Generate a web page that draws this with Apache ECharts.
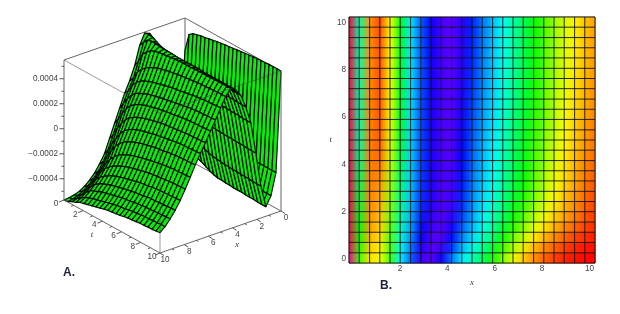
<!DOCTYPE html>
<html><head><meta charset="utf-8">
<style>html,body{margin:0;padding:0;background:#fff}#c{width:620px;height:314px}</style>
<script src="https://cdn.jsdelivr.net/npm/echarts@6/dist/echarts.min.js"></script>
</head><body><div id="c"></div>
<script>
// Sample positions of the 25 x 25 mesh (data units)
const xSamples = [-0.15,0.28,0.72,1.15,1.58,2.01,2.45,2.88,3.31,3.74,4.18,4.61,5.04,5.47,5.91,6.34,6.77,7.2,7.64,8.07,8.5,8.93,9.37,9.8,10.23];
const tSamples = [-0.17,0.26,0.70,1.13,1.56,2.0,2.43,2.86,3.30,3.73,4.16,4.60,5.03,5.46,5.90,6.33,6.76,7.20,7.63,8.06,8.50,8.93,9.36,9.80,10.23];
const levels = [
[320,100,55,65,105,185,220,256,260,240,205,180,160,135,110,85,60,44,30,20,12,6,3,1,0],
[330,110,50,60,102,178,213,250,262,250,218,190,170,149,123,97,72,53,38,27,18,11,6,3,1],
[340,112,45,55,100,170,208,245,260,258,235,205,184,162,138,113,88,67,50,38,28,19,12,8,5],
[342,118,38,52,97,165,204,240,256,260,243,214,193,172,151,126,102,81,62,49,38,28,20,13,8],
[343,125,35,48,94,160,200,235,252,260,250,221,200,180,160,137,115,94,73,59,46,36,27,18,12],
[344,130,33,45,90,155,198,231,250,259,253,226,204,184,166,145,124,103,82,66,52,41,31,21,14],
[345,135,31,41,87,152,196,229,249,258,255,230,207,188,171,150,130,110,89,72,57,45,34,24,16],
[345,140,30,38,84,149,195,228,248,258,256,233,210,191,174,154,135,115,94,76,61,48,37,26,18],
[345,143,30,35,80,146,193,226,247,258,257,235,212,193,177,157,138,119,98,80,64,51,39,28,20],
[345,148,30,31,75,142,192,225,246,257,258,237,214,195,179,160,141,122,101,83,67,53,41,30,22],
[345,152,30,27,71,138,191,224,246,257,259,239,216,197,181,162,143,125,104,86,69,55,43,32,24],
[345,156,30,24,68,134,190,223,246,257,260,240,218,199,183,164,145,127,106,88,71,57,45,34,26],
[345,160,30,22,66,131,190,223,246,257,260,242,220,200,184,166,147,129,108,90,73,59,47,36,27],
[345,160,31,22,65,129,189,222,245,257,260,243,221,202,186,168,149,131,110,92,75,60,48,37,28],
[345,160,31,21,64,128,188,222,245,257,260,244,222,203,187,169,150,133,112,94,77,62,49,38,29],
[345,160,32,21,63,128,188,221,245,257,261,245,224,205,188,170,152,134,114,96,78,63,51,40,31],
[345,160,32,20,63,127,187,221,244,256,261,246,225,206,190,171,153,135,115,97,79,64,52,41,32],
[345,160,33,20,62,127,187,220,244,256,261,247,227,208,191,172,155,137,117,98,81,66,53,42,33],
[345,160,33,20,62,127,187,220,244,256,261,248,228,209,192,173,156,138,118,99,82,67,54,43,34],
[345,160,34,19,61,126,186,219,244,256,261,248,229,210,193,174,157,139,119,100,83,67,54,44,35],
[345,160,34,19,61,126,186,219,243,256,262,249,230,211,193,175,158,140,120,101,83,68,55,44,35],
[345,160,34,19,61,126,186,219,243,256,262,249,231,211,194,175,158,140,120,102,84,69,56,45,36],
[345,160,35,18,60,125,185,218,243,256,262,250,231,212,194,176,159,141,121,102,84,69,56,45,36],
[345,160,35,18,60,125,185,218,243,256,262,250,232,212,195,176,159,141,121,103,85,70,57,46,37],
[345,160,35,18,60,125,185,218,243,256,262,250,232,213,195,177,160,142,122,103,85,70,57,46,38]
];
// Heights of the two columns next to x = 0 (same level unit)
const wallEdgeLevels = [202,235,241,243,245,246,248,249,251,252,253,254,255,256,257,258,259,260,260,261,261,262,262,262,262];
const wallShoulderLevels = [60,64,68,70,72,73,74,74,75,75,75,75,75,75,75,75,75,75,75,75,75,75,75,75,75];
const zTickLabels = ['0.0004','0.0002','0','\u22120.0002','\u22120.0004'];
const zTickValues = [0.0004,0.0002,0,-0.0002,-0.0004];
const zMinorValues = [0.0005,0.0003,0.0001,-0.0001,-0.0003,-0.0005];
const axisTickLabels = ['0','2','4','6','8','10'];
const axisTickValues = [0,2,4,6,8,10];
const axisMinorValues = [1,3,5,7,9];

const zLow = -0.00057, zPerLevel = 0.000004275, zBottom = -0.00057, zTop = 0.00055;
const nearCorner = [160,253], perX = [12.1,-4.2], perT = [-9.6,-5.3], zScale = 125000;
function project(x,t,z){
  return [nearCorner[0]+(10-x)*perX[0]+(10-t)*perT[0],
          nearCorner[1]+(10-x)*perX[1]+(10-t)*perT[1]-(z-zBottom)*zScale];
}
function height(i,j){
  let l = levels[j][i];
  if(i===0) l = wallEdgeLevels[j];
  if(i===1) l = wallShoulderLevels[j];
  return zLow + l*zPerLevel;
}
function hsv(h){
  const f=n=>{const k=(n+h/60)%6;return 255*(1-Math.max(0,Math.min(k,4-k,1)));};
  return [f(5),f(3),f(1)];
}
function mix(a,b){return 'rgb('+[0,1,2].map(k=>Math.round((a[k]+b[k])/2)).join(',')+')';}

const cellsIdx=[];
for(let i=0;i<24;i++)for(let j=0;j<24;j++)cellsIdx.push([i,j]);
const meshLines=[];
for(let i=0;i<25;i++)meshLines.push([0,i]);
for(let j=0;j<25;j++)meshLines.push([1,j]);

// ---------- Panel A box
const cornerOf=(x,t,top)=>project(x,t,top?zTop:zBottom);
const backEdges=[[[10,0,1],[0,0,1]],[[0,0,1],[0,10,1]],[[0,0,1],[0,0,0]],[[10,0,0],[0,0,0]],[[0,0,0],[0,10,0]]];
const nearEdges=[[[10,0,1],[10,10,1]],[[0,10,1],[10,10,1]],[[10,10,1],[10,10,0]]];
const frameEdges=[[[10,0,1],[10,0,0]],[[0,10,1],[0,10,0]],[[10,0,0],[10,10,0]],[[10,10,0],[0,10,0]]];
function edgeSeries(edges,color,z){
  return {type:'custom',coordinateSystem:'cartesian2d',xAxisIndex:1,yAxisIndex:1,silent:true,animation:false,clip:false,z:z,
    data:edges.map((e,k)=>[k,0]),
    renderItem(p,api){
      const e=edges[api.value(0)];
      const a=api.coord(cornerOf(e[0][0],e[0][1],e[0][2])),b=api.coord(cornerOf(e[1][0],e[1][1],e[1][2]));
      return {type:'line',shape:{x1:a[0],y1:a[1],x2:b[0],y2:b[1]},style:{stroke:color,lineWidth:1}};
    }};
}
function textItem(api,pt,txt,font,align){
  const c=api.coord(pt);
  return {type:'text',style:{text:txt,x:c[0],y:c[1],font:font,fill:'#444',align:align||'center',verticalAlign:'middle'}};
}
function tickShape(api,from,dx,dy,color){
  const a=api.coord(from);
  return {type:'line',shape:{x1:a[0],y1:a[1],x2:a[0]+dx,y2:a[1]+dy},style:{stroke:color||'#555',lineWidth:1}};
}
const FONT='8.2px "Liberation Sans", Arial, sans-serif';
const NAMEFONT='italic 9px "Liberation Serif", serif';

const surfaceA={type:'custom',coordinateSystem:'cartesian2d',xAxisIndex:1,yAxisIndex:1,silent:true,animation:false,clip:false,z:3,
  data:cellsIdx,
  renderItem(p,api){
    const i=api.value(0),j=api.value(1),st=10/24;
    const pts=[[i,j],[i+1,j],[i+1,j+1],[i,j+1]].map(q=>api.coord(project(q[0]*st,q[1]*st,height(q[0],q[1]))));
    return {type:'polygon',shape:{points:pts},style:{fill:'#08ee08',stroke:'#061006',lineWidth:1.2,lineJoin:'round'}};
  }};

const zTicksA={type:'custom',coordinateSystem:'cartesian2d',xAxisIndex:1,yAxisIndex:1,silent:true,animation:false,clip:false,z:5,
  data:zTickValues.map(v=>[v,1]).concat(zMinorValues.map(v=>[v,0])),
  renderItem(p,api){
    const v=api.value(0),maj=api.value(1);
    return tickShape(api,project(10,0,v),maj?-4.5:-2.5,0);
  }};
const zLabelsA={type:'custom',coordinateSystem:'cartesian2d',xAxisIndex:1,yAxisIndex:1,silent:true,animation:false,clip:false,z:5,
  data:zTickValues.map((v,k)=>[v,k]),
  renderItem(p,api){
    const b=project(10,0,api.value(0));
    return textItem(api,[b[0]-6,b[1]],zTickLabels[api.value(1)],FONT,'right');
  }};
const tTicksA={type:'custom',coordinateSystem:'cartesian2d',xAxisIndex:1,yAxisIndex:1,silent:true,animation:false,clip:false,z:5,
  data:axisTickValues.map(v=>[v,1]).concat(axisMinorValues.map(v=>[v,0])),
  renderItem(p,api){
    const v=api.value(0),m=api.value(1);
    return tickShape(api,project(10,v,zBottom),m?-5:-2.5,m?2:1);
  }};
const xTicksA={type:'custom',coordinateSystem:'cartesian2d',xAxisIndex:1,yAxisIndex:1,silent:true,animation:false,clip:false,z:5,
  data:axisTickValues.map(v=>[v,1]).concat(axisMinorValues.map(v=>[v,0])),
  renderItem(p,api){
    const v=api.value(0),m=api.value(1);
    return tickShape(api,project(v,10,zBottom),m?4:2,m?2.5:1.2);
  }};
const tLabelsA={type:'custom',coordinateSystem:'cartesian2d',xAxisIndex:1,yAxisIndex:1,silent:true,animation:false,clip:false,z:5,
  data:axisTickValues.map((v,k)=>[v,k]),
  renderItem(p,api){
    const b=project(10,api.value(0),zBottom);
    return textItem(api,[b[0]-8,b[1]+4],axisTickLabels[api.value(1)],FONT);
  }};
const xLabelsA={type:'custom',coordinateSystem:'cartesian2d',xAxisIndex:1,yAxisIndex:1,silent:true,animation:false,clip:false,z:5,
  data:axisTickValues.map((v,k)=>[v,k]),
  renderItem(p,api){
    const b=project(api.value(0),10,zBottom);
    return textItem(api,[b[0]+5,b[1]+7],axisTickLabels[api.value(1)],FONT);
  }};
const namesA={type:'custom',coordinateSystem:'cartesian2d',xAxisIndex:1,yAxisIndex:1,silent:true,animation:false,clip:false,z:5,
  data:[[0,0],[1,0]],
  renderItem(p,api){
    const k=api.value(0);
    return k===0?textItem(api,[92,235],'t',NAMEFONT):textItem(api,[237,245],'x',NAMEFONT);
  }};

// ---------- Panel B
const cellsB={type:'custom',coordinateSystem:'cartesian2d',xAxisIndex:0,yAxisIndex:0,silent:true,animation:false,z:1,
  data:cellsIdx,
  renderItem(p,api){
    const i=api.value(0),j=api.value(1);
    const a=api.coord([xSamples[i],tSamples[j]]),b=api.coord([xSamples[i+1],tSamples[j+1]]);
    const l=mix(hsv(levels[j][i]),hsv(levels[j+1][i])),r=mix(hsv(levels[j][i+1]),hsv(levels[j+1][i+1]));
    return {type:'rect',shape:{x:a[0],y:b[1],width:b[0]-a[0]+0.4,height:a[1]-b[1]+0.4},
      style:{fill:new echarts.graphic.LinearGradient(0,0,1,0,[{offset:0,color:l},{offset:1,color:r}])}};
  }};
const meshB={type:'custom',coordinateSystem:'cartesian2d',xAxisIndex:0,yAxisIndex:0,silent:true,animation:false,z:2,
  data:meshLines,
  renderItem(p,api){
    const dir=api.value(0),k=api.value(1);
    const X0=xSamples[0],X1=xSamples[24],T0=tSamples[0],T1=tSamples[24];
    const a=dir===0?api.coord([xSamples[k],T0]):api.coord([X0,tSamples[k]]);
    const b=dir===0?api.coord([xSamples[k],T1]):api.coord([X1,tSamples[k]]);
    return {type:'line',shape:{x1:a[0],y1:a[1],x2:b[0],y2:b[1]},style:{stroke:'#111',lineWidth:0.9}};
  }};

const option={
  animation:false,
  backgroundColor:'#ffffff',
  title:[
    {text:'A.',left:63,top:267,padding:0,textStyle:{fontSize:12,fontWeight:'bold',color:'#1c2340',fontFamily:'Liberation Sans'}},
    {text:'B.',left:380,top:280,padding:0,textStyle:{fontSize:12,fontWeight:'bold',color:'#1c2340',fontFamily:'Liberation Sans'}}
  ],
  grid:[
    {left:349,top:17,width:246,height:246,show:true,borderColor:'#8a8a8a',borderWidth:1,backgroundColor:'transparent'},
    {left:0,top:0,width:620,height:314,show:false}
  ],
  xAxis:[
    {type:'value',gridIndex:0,min:xSamples[0],max:xSamples[24],name:'x',nameLocation:'middle',nameGap:10,
     nameTextStyle:{fontFamily:'Liberation Serif',fontStyle:'italic',fontSize:9,color:'#444'},
     splitLine:{show:false},axisLine:{show:false},
     axisTick:{show:true,inside:true,length:3,customValues:[1,2,3,4,5,6,7,8,9,10],lineStyle:{color:'#222'}},
     axisLabel:{customValues:axisTickValues.slice(1),formatter:v=>String(v),fontSize:8.2,color:'#444',margin:2,fontFamily:'Liberation Sans'}},
    {type:'value',gridIndex:1,min:0,max:620,show:false}
  ],
  yAxis:[
    {type:'value',gridIndex:0,min:tSamples[0],max:tSamples[24],name:'t',nameLocation:'middle',nameGap:8,nameRotate:0,
     nameTextStyle:{fontFamily:'Liberation Serif',fontStyle:'italic',fontSize:9,color:'#444'},
     splitLine:{show:false},axisLine:{show:false},
     axisTick:{show:true,inside:true,length:3,customValues:[0,1,2,3,4,5,6,7,8,9,10],lineStyle:{color:'#222'}},
     axisLabel:{customValues:axisTickValues,formatter:v=>String(v),fontSize:8.2,color:'#444',margin:3,fontFamily:'Liberation Sans'}},
    {type:'value',gridIndex:1,min:0,max:314,inverse:true,show:false}
  ],
  series:[
    cellsB,meshB,
    edgeSeries(backEdges,'#666',2),
    surfaceA,
    edgeSeries(nearEdges,'rgba(70,70,70,0.55)',4),
    edgeSeries(frameEdges,'#666',4),
    zTicksA,zLabelsA,tTicksA,xTicksA,tLabelsA,xLabelsA,namesA
  ]
};
const chart=echarts.init(document.getElementById('c'),null,{renderer:'canvas'});
chart.setOption(option);
</script></body></html>
